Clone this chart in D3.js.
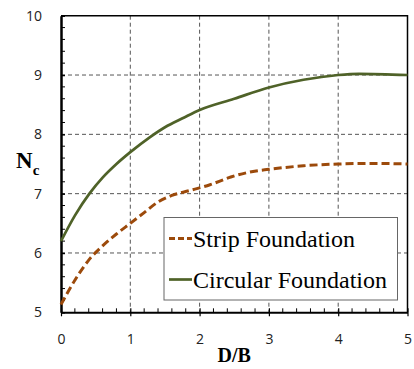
<!DOCTYPE html>
<html>
<head>
<meta charset="utf-8">
<script src="https://cdn.jsdelivr.net/npm/d3@7"></script>
<style>
  body { margin: 0; background: #fff; }
  svg { display: block; }
  .serif { font-family: "Liberation Serif", "Times New Roman", serif; }
</style>
</head>
<body>
<script>
// values
const stripX = [0, 0.2, 0.4, 0.6, 0.8, 1, 1.2, 1.4, 1.6, 1.85, 2.15, 2.45, 2.75, 3, 3.5, 4, 4.5, 5];
const stripY = [5.13, 5.54, 5.88, 6.12, 6.32, 6.5, 6.68, 6.86, 6.97, 7.05, 7.15, 7.28, 7.37, 7.41, 7.47, 7.5, 7.51, 7.5];
const circX = [0, 0.2, 0.41, 0.6, 0.8, 1, 1.28, 1.5, 1.77, 2, 2.5, 3, 3.5, 4, 4.3, 5];
const circY = [6.2, 6.63, 7.0, 7.27, 7.5, 7.7, 7.95, 8.12, 8.28, 8.41, 8.6, 8.79, 8.92, 9.0, 9.02, 9.0];
const xTicks = [0, 1, 2, 3, 4, 5];
const yTicks = [5, 6, 7, 8, 9, 10];
const seriesNames = ["Strip Foundation", "Circular Foundation"];

const sans = "'Open Sans', 'Noto Sans', sans-serif";

const width = 414, height = 369;
const svg = d3.select("body").append("svg")
    .attr("width", width)
    .attr("height", height);

const x = d3.scaleLinear().domain([0, 5]).range([61, 407.5]);
const y = d3.scaleLinear().domain([5, 10]).range([312.3, 15.7]);

// grid
svg.append("g")
    .selectAll("line")
    .data(xTicks.slice(1, -1))
    .join("line")
        .attr("x1", d => x(d)).attr("x2", d => x(d))
        .attr("y1", y(10)).attr("y2", y(5))
        .attr("stroke", "#555").attr("stroke-width", 1)
        .attr("stroke-dasharray", "4,3");
svg.append("g")
    .selectAll("line")
    .data(yTicks.slice(1, -1))
    .join("line")
        .attr("x1", x(0)).attr("x2", x(5))
        .attr("y1", d => y(d)).attr("y2", d => y(d))
        .attr("stroke", "#555").attr("stroke-width", 1)
        .attr("stroke-dasharray", "4,3");

// frame top/right
svg.append("path")
    .attr("d", `M${x(0)},${y(10)}H${x(5)}V${y(5)}`)
    .attr("fill", "none").attr("stroke", "#000").attr("stroke-width", 1.5);

// minor ticks
const minorX = d3.range(0, 5.001, 0.2).filter(v => Math.abs(v - Math.round(v)) > 0.01);
const minorY = d3.range(5, 10.001, 0.2).filter(v => Math.abs(v - Math.round(v)) > 0.01);
svg.append("g").selectAll("line").data(minorX).join("line")
    .attr("x1", d => x(d)).attr("x2", d => x(d))
    .attr("y1", y(5)).attr("y2", y(5) - 4)
    .attr("stroke", "#000").attr("stroke-width", 1);
svg.append("g").selectAll("line").data(minorY).join("line")
    .attr("x1", x(0)).attr("x2", x(0) + 4)
    .attr("y1", d => y(d)).attr("y2", d => y(d))
    .attr("stroke", "#000").attr("stroke-width", 1);

// axes
const xAxis = svg.append("g")
    .attr("transform", `translate(0,${y(5)})`)
    .call(d3.axisBottom(x).tickValues(xTicks).tickFormat(d3.format("d"))
        .tickSize(4).tickSizeOuter(0).tickPadding(18));
xAxis.select(".domain").attr("stroke-width", 2);
xAxis.selectAll(".tick line").attr("y1", -4).attr("stroke-width", 1.2);
xAxis.selectAll("text")
    .attr("font-family", sans).attr("font-size", 14).attr("fill", "#222");

const yAxis = svg.append("g")
    .attr("transform", `translate(${x(0)},0)`)
    .call(d3.axisLeft(y).tickValues(yTicks).tickFormat(d3.format("d"))
        .tickSize(5).tickSizeOuter(0).tickPadding(14));
yAxis.select(".domain").attr("stroke-width", 2.5);
yAxis.selectAll(".tick line").attr("x2", 4).attr("stroke-width", 1.5);
yAxis.selectAll("text")
    .attr("font-family", sans).attr("font-size", 14).attr("fill", "#222");

// curves
const line = d3.line().x(d => x(d[0])).y(d => y(d[1])).curve(d3.curveMonotoneX);
const stripData = d3.zip(stripX, stripY);
const circData = d3.zip(circX, circY);

svg.append("path")
    .datum(stripData)
    .attr("d", line)
    .attr("fill", "none")
    .attr("stroke", "#9c4a0b").attr("stroke-width", 3)
    .attr("stroke-dasharray", "8,4");
svg.append("path")
    .datum(circData)
    .attr("d", line)
    .attr("fill", "none")
    .attr("stroke", "#4f6228").attr("stroke-width", 2.7);

// axis titles
const nc = svg.append("text")
    .attr("class", "serif")
    .attr("x", 16).attr("y", 168)
    .style("font-weight", "bold").style("font-size", "23px");
nc.append("tspan").text("N");
nc.append("tspan").style("font-size", "15px").attr("dy", 7).text("c");

svg.append("text")
    .attr("class", "serif")
    .attr("x", x(2.5)).attr("y", 362)
    .attr("text-anchor", "middle")
    .style("font-weight", "bold").style("font-size", "20px")
    .text("D/B");

// legend
const legend = svg.append("g");
legend.append("rect")
    .attr("x", 164).attr("y", 217.5).attr("width", 233.5).attr("height", 82.5)
    .attr("fill", "#fff").attr("stroke", "#666").attr("stroke-width", 1);
const legendStyles = [
    { color: "#9c4a0b", dash: "6,3", width: 3 },
    { color: "#4f6228", dash: null, width: 2.7 }
];
seriesNames.forEach((name, i) => {
    const cy = 238.5 + i * 41;
    legend.append("line")
        .attr("x1", 169).attr("x2", 192)
        .attr("y1", cy).attr("y2", cy)
        .attr("stroke", legendStyles[i].color)
        .attr("stroke-width", legendStyles[i].width)
        .attr("stroke-dasharray", legendStyles[i].dash);
    legend.append("text")
        .attr("class", "serif")
        .attr("x", 193).attr("y", cy + 8.3)
        .style("font-size", "24px")
        .attr("fill", "#000")
        .text(name);
});
</script>
</body>
</html>
